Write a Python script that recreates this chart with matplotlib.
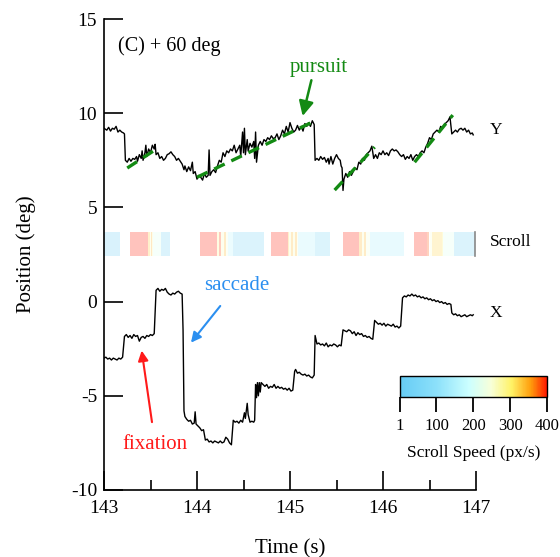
import matplotlib
matplotlib.use("Agg")
import matplotlib.pyplot as plt
import numpy as np
from matplotlib.colors import LinearSegmentedColormap, Normalize
from matplotlib.cm import ScalarMappable
from matplotlib.ticker import MultipleLocator

plt.rcParams['font.family'] = ['Liberation Serif', 'DejaVu Serif']
plt.rcParams['axes.unicode_minus'] = False

# ---------------- data ----------------
y_time = [143.00, 143.03, 143.05, 143.07, 143.09, 143.11, 143.13, 143.15, 143.17, 143.19,
          143.21, 143.22, 143.23, 143.25, 143.27, 143.29, 143.31, 143.33, 143.35, 143.36,
          143.38, 143.40, 143.41, 143.42, 143.44, 143.45, 143.46, 143.48, 143.50, 143.52,
          143.54, 143.55, 143.56, 143.58, 143.60, 143.62, 143.64, 143.66, 143.68, 143.70,
          143.72, 143.74, 143.76, 143.78, 143.80, 143.82, 143.84, 143.86, 143.87, 143.89,
          143.91, 143.93, 143.95, 143.96, 143.98, 144.00, 144.02, 144.04, 144.06, 144.08,
          144.10, 144.12, 144.13, 144.14, 144.16, 144.18, 144.20, 144.22, 144.24, 144.26,
          144.28, 144.30, 144.32, 144.34, 144.36, 144.38, 144.40, 144.42, 144.44, 144.46,
          144.47, 144.49, 144.50, 144.51, 144.52, 144.54, 144.55, 144.57, 144.59, 144.61,
          144.62, 144.63, 144.64, 144.66, 144.68, 144.70, 144.72, 144.74, 144.76, 144.78,
          144.80, 144.82, 144.84, 144.86, 144.88, 144.90, 144.92, 144.94, 144.96, 144.98,
          145.00, 145.02, 145.04, 145.06, 145.08, 145.10, 145.12, 145.14, 145.16, 145.18,
          145.20, 145.22, 145.24, 145.26, 145.27, 145.29, 145.31, 145.33, 145.35, 145.37,
          145.39, 145.41, 145.42, 145.44, 145.46, 145.48, 145.50, 145.52, 145.54, 145.55,
          145.56, 145.57, 145.58, 145.60, 145.62, 145.64, 145.66, 145.68, 145.70, 145.72,
          145.74, 145.76, 145.78, 145.80, 145.82, 145.84, 145.86, 145.88, 145.90, 145.92,
          145.94, 145.96, 145.98, 146.00, 146.02, 146.04, 146.06, 146.08, 146.10, 146.12,
          146.14, 146.16, 146.18, 146.20, 146.22, 146.24, 146.26, 146.28, 146.30, 146.32,
          146.34, 146.36, 146.38, 146.40, 146.42, 146.44, 146.46, 146.48, 146.50, 146.52,
          146.54, 146.56, 146.58, 146.60, 146.62, 146.64, 146.66, 146.68, 146.70, 146.72,
          146.74, 146.76, 146.78, 146.80, 146.82, 146.84, 146.86, 146.88, 146.90, 146.92,
          146.94, 146.96, 146.97]
y_pos = [9.2, 9.1, 9.25, 9.05, 9.2, 9.15, 9.3, 9.0, 9.1, 9.0,
         8.95, 8.9, 7.5, 7.4, 7.6, 7.45, 7.6, 7.55, 7.7, 7.45,
         7.8, 7.6, 8.0, 7.5, 7.9, 8.3, 7.7, 8.1, 7.9, 8.3,
         8.1, 8.35, 7.8, 7.9, 7.6, 7.7, 7.5, 7.6, 7.8, 7.85,
         7.95, 7.8, 7.7, 7.5, 7.6, 7.45, 7.3, 7.0, 7.2, 6.9,
         7.15, 6.95, 7.4, 6.8, 6.9, 6.5, 6.7, 6.6, 6.45, 6.8,
         6.6, 6.7, 8.05, 6.7, 6.9, 7.0, 6.85, 7.2, 7.5, 7.4,
         7.9, 7.7, 8.0, 7.9, 8.1, 8.0, 8.3, 7.9, 8.1, 8.3,
         7.7, 9.0, 7.9, 9.2, 7.8, 8.6, 8.0, 8.4, 8.2, 8.5,
         7.6, 9.0, 7.4, 8.3, 8.5, 8.3, 8.6, 8.5, 8.7, 8.6,
         8.8, 8.65, 8.7, 8.9, 8.6, 8.8, 9.1, 8.9, 9.3, 9.0,
         9.5, 9.2, 9.0, 9.1, 9.35, 9.1, 9.3, 9.05, 9.45, 9.3,
         9.5, 9.3, 9.6, 9.4, 7.5, 7.6, 7.5, 7.7, 7.55, 7.65,
         7.4, 7.6, 7.3, 7.7, 7.3, 7.6, 7.8, 7.6, 7.5, 7.2,
         7.1, 5.9, 6.5, 6.8, 6.6, 6.9, 6.7, 6.9, 7.1, 7.0,
         7.4, 7.3, 7.6, 7.5, 7.8, 7.9, 8.0, 8.25, 7.6, 7.8,
         7.6, 7.9, 7.8, 8.0, 7.8, 7.9, 7.75, 8.0, 8.1, 8.0,
         8.05, 7.95, 7.8, 7.7, 7.8, 7.55, 7.7, 7.6, 7.8, 7.5,
         7.7, 7.8, 7.7, 7.9, 8.0, 7.9, 8.2, 8.4, 8.7, 8.6,
         8.9, 9.0, 9.1, 9.0, 9.3, 9.2, 9.4, 9.5, 9.6, 9.8,
         8.9, 9.0, 9.1, 9.0, 9.15, 9.2, 9.1, 9.2, 9.0, 9.1,
         8.9, 8.95, 8.85]

x_time = [143.00, 143.02, 143.04, 143.06, 143.08, 143.10, 143.12, 143.14, 143.16, 143.18,
          143.20, 143.22, 143.24, 143.26, 143.28, 143.30, 143.32, 143.34, 143.36, 143.38,
          143.40, 143.42, 143.44, 143.46, 143.48, 143.50, 143.52, 143.54, 143.56, 143.58,
          143.60, 143.62, 143.64, 143.66, 143.68, 143.70, 143.72, 143.74, 143.76, 143.78,
          143.80, 143.82, 143.84, 143.85, 143.86, 143.87, 143.89, 143.91, 143.93, 143.95,
          143.97, 143.98, 143.99, 144.01, 144.03, 144.05, 144.07, 144.09, 144.11, 144.13,
          144.15, 144.17, 144.19, 144.21, 144.23, 144.25, 144.27, 144.29, 144.31, 144.33,
          144.35, 144.37, 144.39, 144.41, 144.43, 144.45, 144.47, 144.49, 144.51, 144.52,
          144.54, 144.55, 144.57, 144.59, 144.61, 144.62, 144.63, 144.64, 144.65, 144.66,
          144.67, 144.68, 144.69, 144.71, 144.73, 144.75, 144.77, 144.79, 144.81, 144.83,
          144.85, 144.87, 144.89, 144.91, 144.93, 144.95, 144.97, 144.99, 145.01, 145.03,
          145.05, 145.06, 145.08, 145.10, 145.12, 145.14, 145.16, 145.18, 145.20, 145.22,
          145.24, 145.26, 145.27, 145.29, 145.31, 145.33, 145.35, 145.37, 145.39, 145.41,
          145.43, 145.45, 145.47, 145.49, 145.51, 145.53, 145.55, 145.57, 145.59, 145.61,
          145.63, 145.65, 145.67, 145.69, 145.71, 145.73, 145.75, 145.77, 145.79, 145.81,
          145.83, 145.85, 145.87, 145.89, 145.91, 145.93, 145.95, 145.97, 145.99, 146.01,
          146.03, 146.05, 146.07, 146.09, 146.11, 146.13, 146.15, 146.17, 146.19, 146.21,
          146.23, 146.25, 146.27, 146.29, 146.31, 146.33, 146.35, 146.37, 146.39, 146.41,
          146.43, 146.45, 146.47, 146.49, 146.51, 146.53, 146.55, 146.57, 146.59, 146.61,
          146.63, 146.65, 146.67, 146.69, 146.71, 146.73, 146.74, 146.76, 146.78, 146.80,
          146.82, 146.84, 146.86, 146.88, 146.90, 146.92, 146.94, 146.96, 146.97]
x_pos = [-3.0, -2.95, -3.05, -3.0, -3.1, -3.0, -3.05, -3.1, -3.0, -3.05,
         -2.95, -1.85, -1.75, -1.9, -1.8, -1.95, -1.75, -1.85, -1.8, -2.1,
         -1.9, -1.85, -1.95, -1.8, -1.85, -1.75, -1.8, -1.7, 0.6, 0.7,
         0.55, 0.65, 0.6, 0.7, 0.5, 0.4, 0.35, 0.45, 0.4, 0.5,
         0.55, 0.45, 0.4, -1.5, -5.8, -6.1, -6.25, -6.35, -6.3, -6.5,
         -6.45, -5.85, -6.5, -6.6, -6.7, -6.85, -6.8, -7.35, -7.3, -7.45,
         -7.4, -7.5, -7.4, -7.45, -7.5, -7.4, -7.5, -7.45, -7.2, -7.3,
         -7.5, -7.6, -6.3, -6.4, -6.35, -6.45, -6.3, -6.4, -5.9, -6.2,
         -5.4, -6.0, -6.4, -6.35, -6.4, -6.3, -4.4, -5.1, -4.3, -5.0,
         -4.3, -4.8, -4.3, -4.4, -4.5, -4.4, -4.6, -4.5, -4.55, -4.4,
         -4.6, -4.5, -4.6, -4.55, -4.65, -4.6, -4.7, -4.6, -4.75, -4.7,
         -3.7, -3.6, -3.8, -3.75, -3.85, -3.9, -3.85, -3.95, -3.9, -4.0,
         -4.05, -3.9, -1.8, -2.25, -2.2, -2.3, -2.25, -2.35, -2.2, -2.4,
         -2.3, -2.35, -2.25, -2.3, -2.4, -2.3, -2.35, -1.5, -1.55, -1.6,
         -1.5, -1.55, -1.7, -1.6, -1.8, -1.65, -1.75, -1.7, -1.85, -1.8,
         -1.9, -1.85, -1.95, -2.0, -1.0, -1.1, -1.2, -1.15, -1.25, -1.15,
         -1.3, -1.2, -1.25, -1.3, -1.2, -1.35, -1.3, -1.4, -1.3, 0.2,
         0.3, 0.25, 0.35, 0.3, 0.4, 0.3, 0.35, 0.25, 0.3, 0.2,
         0.25, 0.15, 0.2, 0.1, 0.15, 0.05, 0.1, 0.0, 0.05, -0.05,
         0.0, -0.1, -0.05, -0.15, -0.1, -0.15, -0.6, -0.7, -0.65, -0.75,
         -0.7, -0.8, -0.75, -0.7, -0.8, -0.75, -0.7, -0.75, -0.7]

# pursuit fits (start time, start pos, end time, end pos)
fit_t0 = [143.25, 144.00, 145.48, 146.34]
fit_y0 = [7.09, 6.60, 5.92, 7.40]
fit_t1 = [143.58, 145.25, 145.91, 146.75]
fit_y1 = [8.15, 9.55, 8.20, 9.90]

# scroll speed segments (px/s)
scroll_start = [143.00, 143.28, 143.476, 143.49, 143.505, 143.515, 143.53, 143.613,
                144.032, 144.21, 144.235, 144.26, 144.29, 144.31, 144.337, 144.39,
                144.796, 144.975, 144.99, 145.015, 145.03, 145.05, 145.07, 145.09, 145.27,
                145.567, 145.745, 145.77, 145.795, 145.815, 145.86,
                146.333, 146.47, 146.50, 146.525, 146.63, 146.65, 146.765]
scroll_end = [143.17, 143.476, 143.49, 143.505, 143.515, 143.53, 143.613, 143.71,
              144.21, 144.235, 144.26, 144.29, 144.31, 144.337, 144.39, 144.72,
              144.975, 144.99, 145.015, 145.03, 145.05, 145.07, 145.09, 145.27, 145.43,
              145.745, 145.77, 145.795, 145.815, 145.86, 146.23,
              146.47, 146.50, 146.525, 146.63, 146.65, 146.765, 146.985]
scroll_speed = [20, 400, 330, 260, 350, 270, 215, 40,
                400, 280, 390, 260, 340, 240, 160, 40,
                400, 330, 260, 340, 260, 340, 250, 150, 50,
                400, 340, 260, 340, 240, 140,
                400, 380, 250, 320, 300, 215, 40]

speed_ticks = [1, 100, 200, 300, 400]

# ---------------- figure ----------------
fig = plt.figure(figsize=(5.6, 5.57), dpi=100)
ax = fig.add_axes([104/560, 1-490/557, 372/560, 471/557])

cmap = LinearSegmentedColormap.from_list(
    'scroll',
    [(0.0, (0.40, 0.80, 0.96)),
     (0.25, (0.55, 0.88, 0.98)),
     (0.47, (0.80, 1.00, 1.00)),
     (0.62, (0.97, 1.00, 0.85)),
     (0.76, (1.00, 0.95, 0.40)),
     (0.89, (1.00, 0.62, 0.05)),
     (1.0, (1.00, 0.10, 0.00))])
norm = Normalize(vmin=1, vmax=400)

band_lo, band_hi = 2.4, 3.7
for s, e, v in zip(scroll_start, scroll_end, scroll_speed):
    ax.bar(s, band_hi - band_lo, width=e - s, bottom=band_lo, align='edge',
           color=cmap(norm(v)), alpha=0.26, linewidth=0, antialiased=False, zorder=1)
ax.plot([scroll_end[-1], scroll_end[-1]], [band_lo, band_hi], color='#888888', lw=1.2, zorder=2)

ax.plot(y_time, y_pos, color='black', lw=1.0, zorder=3)
ax.plot(x_time, x_pos, color='black', lw=1.0, zorder=3)

green = '#138a13'
for t0, p0, t1, p1 in zip(fit_t0, fit_y0, fit_t1, fit_y1):
    ax.plot([t0, t1], [p0, p1], color=green, lw=2.4, ls=(0, (3.5, 2.2)), zorder=4)

ax.set_xlim(143, 147)
ax.set_ylim(-10, 15)
ax.set_xticks([143, 144, 145, 146, 147])
ax.xaxis.set_minor_locator(MultipleLocator(0.5))
ax.set_yticks([-10, -5, 0, 5, 10, 15])
ax.tick_params(axis='both', which='major', direction='in', length=14, width=1.2,
               labelsize=14)
ax.tick_params(axis='x', which='major', pad=7)
ax.tick_params(axis='y', which='major', pad=5)
ax.tick_params(axis='x', which='minor', direction='in', length=7, width=1.2)
for sp in ['top', 'right']:
    ax.spines[sp].set_visible(False)
for sp in ['left', 'bottom']:
    ax.spines[sp].set_linewidth(1.2)

ax.set_xlabel('Time (s)', fontsize=15, labelpad=16)
ax.set_ylabel('Position (deg)', fontsize=15, labelpad=25)

ax.text(143.15, 13.57, '(C) + 60 deg', fontsize=14.5, ha='left', va='center')
ax.text(147.15, 9.1, 'Y', fontsize=12.5, ha='left', va='center', clip_on=False)
ax.text(147.15, 3.16, 'Scroll', fontsize=12.5, ha='left', va='center', clip_on=False)
ax.text(147.15, -0.6, 'X', fontsize=12.5, ha='left', va='center', clip_on=False)

ax.text(145.31, 12.45, 'pursuit', color=green, fontsize=15, ha='center', va='center')
ax.annotate('', xy=(145.136, 9.85), xytext=(145.23, 11.75),
            arrowprops=dict(arrowstyle='-|>', color=green, lw=1.8, mutation_scale=22,
                            shrinkA=0, shrinkB=0))
ax.annotate('saccade', xy=(143.935, -2.18), xytext=(144.43, 0.88), color='#2b8ff0',
            fontsize=15, ha='center', va='center',
            arrowprops=dict(arrowstyle='-|>', color='#2b8ff0', lw=1.5, mutation_scale=15,
                            shrinkA=8, shrinkB=0))
ax.annotate('fixation', xy=(143.405, -2.6), xytext=(143.55, -7.56), color='#ff1a1a',
            fontsize=15, ha='center', va='center',
            arrowprops=dict(arrowstyle='-|>', color='#ff1a1a', lw=1.5, mutation_scale=15,
                            shrinkA=7, shrinkB=0))

cax = fig.add_axes([400/560, 1-397/557, 147/560, 21/557])
cb = fig.colorbar(ScalarMappable(norm=norm, cmap=cmap), cax=cax, orientation='horizontal',
                  ticks=speed_ticks)
cb.outline.set_linewidth(1.0)
cax.tick_params(direction='out', length=11, width=1.3, labelsize=12, pad=4)
cb.set_label('Scroll Speed (px/s)', fontsize=12.5, labelpad=8)

fig.savefig('out.png', dpi=100)
